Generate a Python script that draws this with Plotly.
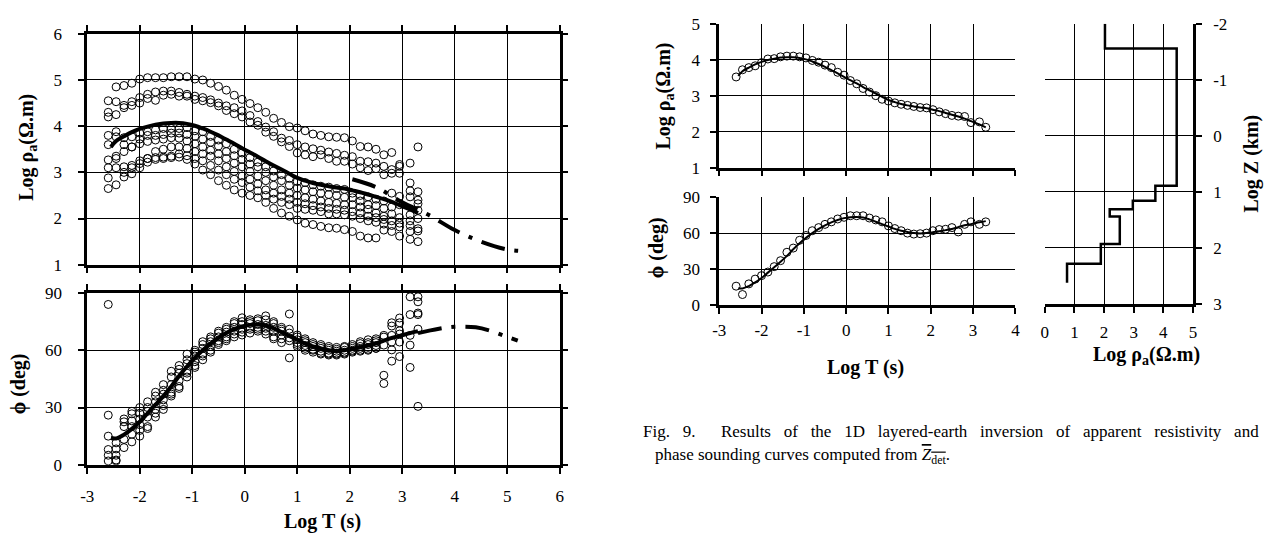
import plotly.graph_objects as go

W, H = 1271, 543

# ---------------- data ----------------
log_t = [-2.6, -2.45, -2.3, -2.15, -2.0, -1.85, -1.7, -1.55, -1.4, -1.25,
         -1.1, -0.95, -0.8, -0.65, -0.5, -0.35, -0.2, -0.05, 0.1, 0.25,
         0.4, 0.55, 0.7, 0.85, 1.0, 1.15, 1.3, 1.45, 1.6, 1.75,
         1.9, 2.05, 2.2, 2.35, 2.5, 2.65, 2.8, 2.95, 3.15, 3.3]

# apparent resistivity of several soundings (left panel)
rho_a = [4.55, 4.85, 4.88, 4.93, 5.02, 5.05, 5.05, 5.05, 5.07, 5.07,
         5.07, 5.02, 5.0, 4.93, 4.86, 4.78, 4.67, 4.58, 4.49, 4.4,
         4.3, 4.17, 4.08, 3.99, 3.96, 3.9, 3.83, 3.8, 3.77, 3.76,
         3.75, 3.68, 3.56, 3.55, 3.5, 3.38, 3.43, 3.17, 3.2, 3.55]
rho_b = [4.3, 4.53, 4.45, 4.53, 4.62, 4.69, 4.74, 4.76, 4.76, 4.73,
         4.69, 4.65, 4.62, 4.57, 4.5, 4.44, 4.4, 4.33, 4.23, 4.1,
         3.98, 3.88, 3.74, 3.69, 3.6, 3.55, 3.51, 3.48, 3.44, 3.41,
         3.37, 3.34, 3.24, 3.23, 3.2, 3.13, 3.06, 3.13, 2.77, 2.58]
rho_b2 = [4.2, 4.25, 4.4, 4.45, 4.5, 4.6, 4.56, 4.67, 4.69, 4.65,
          4.65, 4.58, 4.55, 4.51, 4.44, 4.34, 4.27, 4.2, 4.09, 4.02,
          3.87, 3.78, 3.66, 3.56, 3.42, 3.38, 3.34, 3.38, 3.3, 3.24,
          3.24, 3.18, 3.1, 3.04, 3.08, 2.95, 2.98, 2.98, 2.47, 2.32]
rho_c = [3.8, 3.88, 3.75, 3.77, 3.85, 3.88, 3.92, 3.95, 3.95, 3.95,
         3.97, 3.9, 3.88, 3.78, 3.7, 3.62, 3.5, 3.42, 3.32, 3.22,
         3.12, 3.03, 2.95, 2.87, 2.8, 2.78, 2.73, 2.7, 2.68, 2.65,
         2.63, 2.55, 2.5, 2.47, 2.42, 2.38, 2.55, 2.48, 2.6, 2.4]
rho_d = [3.6, 3.77, 3.6, 3.55, 3.72, 3.8, 3.8, 3.82, 3.85, 3.85,
         3.82, 3.78, 3.72, 3.65, 3.57, 3.45, 3.36, 3.28, 3.18, 3.12,
         3.0, 2.9, 2.82, 2.72, 2.66, 2.62, 2.58, 2.55, 2.52, 2.5,
         2.46, 2.45, 2.38, 2.3, 2.28, 2.22, 2.25, 2.3, 2.08, 2.18]
rho_e = [3.27, 3.35, 3.45, 3.55, 3.62, 3.67, 3.7, 3.72, 3.75, 3.74,
         3.68, 3.62, 3.55, 3.48, 3.4, 3.3, 3.2, 3.12, 3.02, 2.92,
         2.82, 2.72, 2.62, 2.55, 2.5, 2.45, 2.42, 2.38, 2.35, 2.33,
         2.3, 2.3, 2.25, 2.2, 2.12, 2.05, 2.1, 2.02, 1.95, 2.0]
rho_f = [3.1, 3.1, 3.12, 3.15, 3.19, 3.3, 3.32, 3.33, 3.35, 3.4,
         3.36, 3.3, 3.25, 3.15, 3.05, 2.95, 2.85, 2.78, 2.68, 2.6,
         2.5, 2.42, 2.35, 2.3, 2.22, 2.2, 2.18, 2.15, 2.1, 2.1,
         2.08, 2.05, 2.0, 1.95, 1.92, 1.88, 1.85, 1.82, 1.72, 1.78]
rho_g = [2.65, 2.73, 2.9, 2.97, 3.1, 3.22, 3.28, 3.3, 3.32, 3.33,
         3.28, 3.18, 3.05, 2.95, 2.82, 2.72, 2.62, 2.55, 2.5, 2.45,
         2.35, 2.22, 2.12, 2.05, 1.97, 1.9, 1.87, 1.83, 1.8, 1.79,
         1.76, 1.72, 1.62, 1.58, 1.58, 1.75, 1.72, 1.62, 1.55, 1.5]
rho_h = [2.88, 3.3, 3.0, 3.1, 3.25, 3.3, 3.45, 3.5, 3.55, 3.55,
         3.52, 3.45, 3.4, 3.35, 3.25, 3.12, 3.02, 2.92, 2.85, 2.75,
         2.62, 2.55, 2.48, 2.42, 2.35, 2.32, 2.28, 2.25, 2.22, 2.2,
         2.18, 2.15, 2.12, 2.05, 2.02, 1.98, 1.95, 1.9, 1.85, 1.73]
rho_stations = [rho_a, rho_b, rho_b2, rho_c, rho_d, rho_e, rho_f, rho_g, rho_h]

# phase of several soundings (left panel)
phi_1 = [26, 11.5, 24, 28, 30, 33, 38, 42, 49, 52, 58, 60, 64.5, 67, 70, 72, 75, 77, 76, 76.5,
         78, 75, 72, 79, 68, 66, 64, 63, 62, 61.5, 62, 63, 64.5, 65.5, 66, 67.8, 74.4, 76.9, 88, 88]
phi_2 = [15, 8.3, 22.5, 26.7, 27, 30, 36, 39, 46, 50, 55, 59, 63, 66, 69, 71, 74, 75, 75, 75.5,
         76, 74, 71, 71, 67, 65, 63, 62, 61, 60.5, 61.5, 62, 63.5, 64, 65, 66.9, 72.7, 74.4, 78.7, 85.4]
phi_3 = [8, 5, 20, 23, 24, 28, 33, 37, 42, 48, 53, 57, 61, 64.5, 67, 69.5, 72, 73.5, 74, 73.5,
         73, 72, 70, 69, 65.5, 64, 62, 61, 60, 59.5, 60, 61, 62, 63, 64, 62.7, 67.8, 70.2, 67.8, 79.5]
phi_4 = [5, 2.5, 13.3, 20, 21, 25, 29, 34, 38, 44, 49, 54, 58, 62, 65, 67, 70, 71, 72, 72,
         71.5, 70, 68, 66.5, 64, 62.5, 60.5, 59.5, 58.5, 58.5, 59, 60, 61, 61.5, 62.5, 46.9, 64.3, 68.5, 62.7, 78.7]
phi_5 = [2, 2, 9, 16, 18, 20, 27, 31, 37, 41, 48, 52, 57, 60, 64, 66, 68.5, 69.5, 71, 71,
         70, 67, 66, 65, 63, 61, 60, 58.5, 58, 58, 58.5, 59.5, 60, 60.5, 61, 42.6, 60.2, 64.3, 51, 71.1]
phi_6 = [84, None, None, 12, 15, 19, 25, 29, 36, 40, 46, 51, 55, 59, 63, 65, 67, 68, 69, 70,
         68.5, 66, 64, 56, 62, 60, 59, 58, 57.5, 57.5, 58, 59, 59.5, 60, 61, None, 54.3, 56.7, None, 30.6]
phi_stations = [phi_1, phi_2, phi_3, phi_4, phi_5, phi_6]

# model response (fit) curves
fit_t = [-2.55, -2.45, -2.3, -2.15, -2.0, -1.85, -1.7, -1.55, -1.4, -1.25,
         -1.1, -0.95, -0.8, -0.65, -0.5, -0.35, -0.2, -0.05, 0.1, 0.25,
         0.4, 0.55, 0.7, 0.85, 1.0, 1.15, 1.3, 1.45, 1.6, 1.75,
         1.9, 2.05, 2.2, 2.35, 2.5, 2.65, 2.8, 2.95, 3.15, 3.3]
fit_rho = [3.55, 3.68, 3.78, 3.87, 3.94, 3.99, 4.03, 4.06, 4.07, 4.07,
           4.05, 4.01, 3.95, 3.88, 3.8, 3.71, 3.62, 3.52, 3.43, 3.34,
           3.24, 3.15, 3.06, 2.97, 2.88, 2.82, 2.77, 2.73, 2.7, 2.67,
           2.65, 2.61, 2.57, 2.52, 2.47, 2.42, 2.36, 2.29, 2.2, 2.12]
fit_phi = [14, 13.8, 15.8, 18.8, 22.5, 27, 31.5, 36, 41, 46.5,
           51.5, 56, 60, 63.5, 66.5, 69, 71, 72.5, 73.3, 73.5,
           73, 71.5, 69.5, 67.5, 65.5, 63.5, 62, 61, 60, 59.6,
           60, 60.8, 61.5, 62.5, 63.5, 65, 66.5, 67.5, 69, 70]

# long-period extrapolation (dash-dot)
ext_t = [2.05, 2.5, 3.0, 3.5, 4.0, 4.5, 5.0, 5.28]
ext_rho = [2.85, 2.68, 2.35, 2.08, 1.75, 1.5, 1.33, 1.3]
ext_phi_t = [3.3, 3.7, 4.0, 4.4, 4.7, 5.0, 5.2]
ext_phi = [69, 71.3, 72.3, 72, 70, 67, 65]

# averaged sounding (right panel)
avg_rho = [3.52, 3.72, 3.78, 3.83, 3.92, 4.02, 4.03, 4.08, 4.1, 4.1,
           4.08, 4.05, 3.98, 3.93, 3.85, 3.78, 3.65, 3.57, 3.42, 3.33,
           3.2, 3.1, 3.0, 2.9, 2.85, 2.8, 2.76, 2.73, 2.7, 2.67,
           2.66, 2.61, 2.55, 2.5, 2.45, 2.43, 2.42, 2.25, 2.27, 2.12]
avg_phi = [15.7, 8.7, 17.6, 21.6, 24.5, 27.5, 32, 37, 44, 47.5,
           54, 58, 62, 64.6, 67.3, 69.4, 71.8, 73.2, 74.5, 74.5,
           74.5, 72.6, 71, 69.4, 66, 63.8, 62, 60, 59.2, 59.5,
           60, 62, 63, 63.2, 64.6, 61, 67.3, 69.4, 67.3, 69.4]

# layered model
layer_rho = [2.03, 4.45, 3.73, 2.97, 2.19, 2.53, 1.89, 0.75, 0.75]
layer_z = [-2.0, -1.56, 0.89, 1.16, 1.31, 1.44, 1.93, 2.28, 2.62]

# tick labels
t_ticks_left = [-3, -2, -1, 0, 1, 2, 3, 4, 5, 6]
t_ticks_right = [-3, -2, -1, 0, 1, 2, 3, 4]
rho_ticks_left = [1, 2, 3, 4, 5, 6]
rho_ticks_right = [1, 2, 3, 4, 5]
phi_ticks = [0, 30, 60, 90]
model_rho_ticks = [0, 1, 2, 3, 4, 5]
model_z_ticks = [-2, -1, 0, 1, 2, 3]

# ---------------- figure ----------------
FONT = "Liberation Serif, Times New Roman, serif"
fig = go.Figure()

mk = dict(symbol="circle-open", size=8, color="black", line=dict(width=1, color="black"))

for s in rho_stations:
    fig.add_trace(go.Scatter(x=log_t, y=s, mode="markers", marker=mk, xaxis="x", yaxis="y"))
fig.add_trace(go.Scatter(x=fit_t, y=fit_rho, mode="lines", line=dict(color="black", width=4, shape="spline"),
                         xaxis="x", yaxis="y"))
fig.add_trace(go.Scatter(x=ext_t, y=ext_rho, mode="lines",
                         line=dict(color="black", width=4, dash="24px,10px,4px,10px", shape="spline"),
                         xaxis="x", yaxis="y"))

for s in phi_stations:
    fig.add_trace(go.Scatter(x=log_t, y=s, mode="markers", marker=mk, xaxis="x2", yaxis="y2"))
fig.add_trace(go.Scatter(x=fit_t, y=fit_phi, mode="lines", line=dict(color="black", width=4, shape="spline"),
                         xaxis="x2", yaxis="y2"))
fig.add_trace(go.Scatter(x=ext_phi_t, y=ext_phi, mode="lines",
                         line=dict(color="black", width=4, dash="24px,10px,4px,10px", shape="spline"),
                         xaxis="x2", yaxis="y2"))

fig.add_trace(go.Scatter(x=log_t, y=avg_rho, mode="markers", marker=mk, xaxis="x3", yaxis="y3"))
fig.add_trace(go.Scatter(x=fit_t, y=fit_rho, mode="lines", line=dict(color="black", width=2, shape="spline"),
                         xaxis="x3", yaxis="y3"))
fig.add_trace(go.Scatter(x=log_t, y=avg_phi, mode="markers", marker=mk, xaxis="x4", yaxis="y4"))
fig.add_trace(go.Scatter(x=fit_t, y=fit_phi, mode="lines", line=dict(color="black", width=2, shape="spline"),
                         xaxis="x4", yaxis="y4"))

fig.add_trace(go.Scatter(x=layer_rho, y=layer_z, mode="lines", line=dict(color="black", width=2.5, shape="vh"),
                         xaxis="x5", yaxis="y5"))


def ax(ticks_list, standoff, **kw):
    base = dict(showgrid=True, gridcolor="black", gridwidth=1, zeroline=False,
                ticks="outside", ticklen=6, tickwidth=1.5, tickcolor="black",
                tickfont=dict(family=FONT, size=17, color="black"),
                linecolor="black", showline=True, linewidth=2.5, fixedrange=True,
                tickmode="array", tickvals=ticks_list, ticktext=[str(v) for v in ticks_list],
                ticklabelstandoff=standoff)
    base.update(kw)
    return base


def dx(a, b):
    return [a / W, b / W]


def dy(top, bottom):
    return [1 - bottom / H, 1 - top / H]


fig.update_layout(
    width=W, height=H, margin=dict(l=0, r=0, t=0, b=0),
    paper_bgcolor="white", plot_bgcolor="white", showlegend=False,
    font=dict(family=FONT, color="black"),
    xaxis=ax(t_ticks_left, 8, domain=dx(81, 558), anchor="y", range=[-3, 6], showticklabels=False,
             mirror="allticks"),
    yaxis=ax(rho_ticks_left, 13, domain=dy(25.7, 265), anchor="x", range=[1, 6], mirror="allticks"),
    xaxis2=ax(t_ticks_left, 8, domain=dx(81, 558), anchor="y2", range=[-3, 6], mirror="allticks"),
    yaxis2=ax(phi_ticks, 13, domain=dy(294.3, 472.3), anchor="x2", range=[0, 90], mirror="allticks"),
    xaxis3=ax(t_ticks_right, 2, domain=dx(719, 1018), anchor="y3", range=[-3, 4], showticklabels=False),
    yaxis3=ax(rho_ticks_right, 7, domain=dy(15.3, 164.3), anchor="x3", range=[1, 5]),
    xaxis4=ax(t_ticks_right, 2, domain=dx(719, 1018), anchor="y4", range=[-3, 4]),
    yaxis4=ax(phi_ticks, 7, domain=dy(195, 306.7), anchor="x4", range=[0, 90]),
    xaxis5=ax(model_rho_ticks, 5, domain=dx(1047.7, 1197.3), anchor="y5", range=[0, 5]),
    yaxis5=ax(model_z_ticks, 8, domain=dy(15.3, 305.7), anchor="x5", range=[3, -2], side="right"),
)

tfont = dict(family=FONT, size=20, color="black")
ann = []


def label(text, x, y, angle=0, font=tfont, xanchor="center"):
    ann.append(dict(text=text, x=x / W, y=1 - y / H, xref="paper", yref="paper", showarrow=False,
                    textangle=angle, font=font, xanchor=xanchor, yanchor="middle"))


label("<b>Log ρ<sub>a</sub>(Ω.m)</b>", 21, 143, -90)
label("<b>ϕ (deg)</b>", 12, 388, -90)
label("<b>Log T (s)</b>", 319, 531)
label("<b>Log ρ<sub>a</sub>(Ω.m)</b>", 664, 90, -90)
label("<b>ϕ (deg)</b>", 656, 247, -90)
label("<b>Log T (s)</b>", 867, 371)
label("<b>Log ρ<sub>a</sub>(Ω.m)</b>", 1150, 359)
label("<b>Log Z (km)</b>", 1256, 160, -90)

cfont = dict(family=FONT, size=17, color="black")
label("<span style='word-spacing:8.5px'>Fig. 9.\u00a0 Results of the 1D layered-earth inversion of apparent "
      "resistivity and</span>", 640, 438, font=cfont, xanchor="left")
label("phase sounding curves computed from <span style='text-decoration:overline'><i>Z</i><sub>det</sub></span>.",
      652, 463, font=cfont, xanchor="left")

fig.update_layout(annotations=ann)

fig.write_html("out.html", config={"displayModeBar": False},
               post_script="document.body.style.margin='0';")
